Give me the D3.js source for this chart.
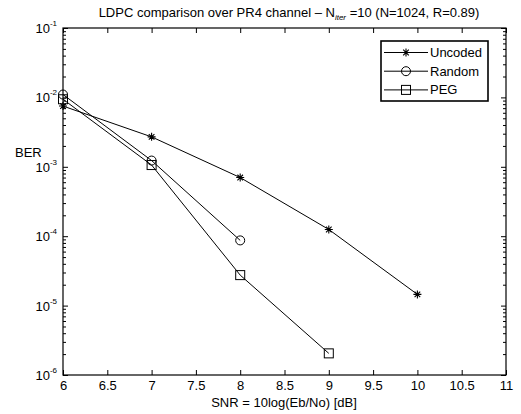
<!DOCTYPE html>
<html>
<head>
<meta charset="utf-8">
<script src="https://cdn.jsdelivr.net/npm/d3@7"></script>
<style>
  body { margin: 0; background: #fff; }
  svg { font-family: "Liberation Sans", Arial, sans-serif; }
</style>
</head>
<body>
<div id="chart"></div>
<script>
// data
var snr = [6, 7, 8, 9, 10];
var uncoded = [7.5e-3, 2.7e-3, 7.0e-4, 1.25e-4, 1.45e-5];
var randomCode = [1.1e-2, 1.23e-3, 8.7e-5];
var pegCode = [9.4e-3, 1.06e-3, 2.75e-5, 2.05e-6];
var xTicks = [6, 6.5, 7, 7.5, 8, 8.5, 9, 9.5, 10, 10.5, 11];
var yExponents = [-6, -5, -4, -3, -2, -1];
var seriesNames = ["Uncoded", "Random", "PEG"];

var width = 521, height = 414;
// plot area edges (window.top is read-only, so no plain "top")
var plotL = 63, plotR = 506, plotT = 28, plotB = 375;
var fs = 13;

var svg = d3.select('#chart').append('svg')
  .attr('width', width)
  .attr('height', height);

var x = d3.scaleLinear().domain([6, 11]).range([plotL, plotR]);
var y = d3.scaleLog().domain([1e-6, 1e-1]).range([plotB, plotT]);

// minor ticks for the log axis
var minor = [];
for (var e = -6; e < -1; e++) {
  for (var k = 2; k <= 9; k++) minor.push(k * Math.pow(10, e));
}
var major = yExponents.map(function(p){ return Math.pow(10, p); });

function styleAxis(g){
  g.select('.domain').remove();
  g.selectAll('line').attr('stroke', '#000').attr('stroke-width', 1);
}

// bottom & top x axes, ticks pointing in
svg.append('g').attr('transform', 'translate(0,' + plotB + ')')
  .call(d3.axisBottom(x).tickValues(xTicks).tickSize(-5).tickPadding(6)
        .tickFormat(function(d){ return d; }))
  .call(styleAxis)
  .selectAll('text').attr('font-size', fs).attr('fill', '#000')
  .attr('font-family', '"Liberation Sans", Arial, sans-serif');

svg.append('g').attr('transform', 'translate(0,' + plotT + ')')
  .call(d3.axisTop(x).tickValues(xTicks).tickSize(-5).tickFormat(''))
  .call(styleAxis);

// left & right y axes
svg.append('g').attr('transform', 'translate(' + plotL + ',0)')
  .call(d3.axisLeft(y).tickValues(major).tickSize(-5).tickFormat(''))
  .call(styleAxis);
svg.append('g').attr('transform', 'translate(' + plotL + ',0)')
  .call(d3.axisLeft(y).tickValues(minor).tickSize(-3).tickFormat(''))
  .call(styleAxis);
svg.append('g').attr('transform', 'translate(' + plotR + ',0)')
  .call(d3.axisRight(y).tickValues(major).tickSize(-5).tickFormat(''))
  .call(styleAxis);
svg.append('g').attr('transform', 'translate(' + plotR + ',0)')
  .call(d3.axisRight(y).tickValues(minor).tickSize(-3).tickFormat(''))
  .call(styleAxis);

// y tick labels 10^n
var yl = svg.append('g').selectAll('text')
  .data(yExponents)
  .enter().append('text')
  .attr('x', plotL - 6)
  .attr('y', function(d){ return y(Math.pow(10, d)) + 5; })
  .attr('text-anchor', 'end')
  .attr('font-size', fs);
yl.append('tspan').text('10');
yl.append('tspan').attr('dy', -7).attr('font-size', 8).text(function(d){ return '-' + Math.abs(d); });

// plot box
svg.append('rect')
  .attr('x', plotL).attr('y', plotT)
  .attr('width', plotR - plotL).attr('height', plotB - plotT)
  .attr('fill', 'none').attr('stroke', '#000').attr('stroke-width', 1.2);

// title
var title = svg.append('text')
  .attr('x', 289).attr('y', 17)
  .attr('text-anchor', 'middle').attr('font-size', fs);
title.append('tspan').text('LDPC comparison over PR4 channel \u2013 N');
title.append('tspan').attr('dy', 3).attr('font-size', 8).attr('font-style', 'italic').text('iter');
title.append('tspan').attr('dy', -3).text(' =10 (N=1024, R=0.89)');

// axis labels
svg.append('text').attr('x', 284).attr('y', 407)
  .attr('text-anchor', 'middle').attr('font-size', fs)
  .text('SNR = 10log(Eb/No) [dB]');
svg.append('text').attr('x', 15).attr('y', 157)
  .attr('font-size', fs).text('BER');

// series
var line = d3.line()
  .x(function(d){ return x(d[0]); })
  .y(function(d){ return y(d[1]); });

function pts(vals){ return vals.map(function(v, i){ return [snr[i], v]; }); }

var series = [pts(uncoded), pts(randomCode), pts(pegCode)];

var plot = svg.append('g');
series.forEach(function(s){
  plot.append('path').datum(s)
    .attr('d', line)
    .attr('fill', 'none').attr('stroke', '#000').attr('stroke-width', 1);
});

function drawMarker(g, kind, cx, cy){
  if (kind === 0) {
    var r = 4, q = 2.8;
    var d = 'M' + (cx - r) + ',' + cy + 'H' + (cx + r) +
            'M' + cx + ',' + (cy - r) + 'V' + (cy + r) +
            'M' + (cx - q) + ',' + (cy - q) + 'L' + (cx + q) + ',' + (cy + q) +
            'M' + (cx - q) + ',' + (cy + q) + 'L' + (cx + q) + ',' + (cy - q);
    g.append('path').attr('d', d).attr('stroke', '#000').attr('stroke-width', 1.1);
  } else if (kind === 1) {
    g.append('circle').attr('cx', cx).attr('cy', cy).attr('r', 4.5)
      .attr('fill', 'none').attr('stroke', '#000').attr('stroke-width', 1);
  } else {
    g.append('rect').attr('x', cx - 4.5).attr('y', cy - 4.5)
      .attr('width', 9).attr('height', 9)
      .attr('fill', 'none').attr('stroke', '#000').attr('stroke-width', 1);
  }
}

series.forEach(function(s, i){
  s.forEach(function(p){ drawMarker(plot, i, x(p[0]), y(p[1])); });
});

// legend
var lg = svg.append('g');
lg.append('rect').attr('x', 381).attr('y', 41).attr('width', 107).attr('height', 60)
  .attr('fill', '#fff').attr('stroke', '#000').attr('stroke-width', 1.6);
seriesNames.forEach(function(name, i){
  var ly = 52.5 + i * 18.7;
  lg.append('line').attr('x1', 384).attr('x2', 428).attr('y1', ly).attr('y2', ly)
    .attr('stroke', '#000').attr('stroke-width', 1);
  drawMarker(lg, i, 406, ly);
  lg.append('text').attr('x', 430).attr('y', ly + 4.5).attr('font-size', fs).text(name);
});
</script>
</body>
</html>
